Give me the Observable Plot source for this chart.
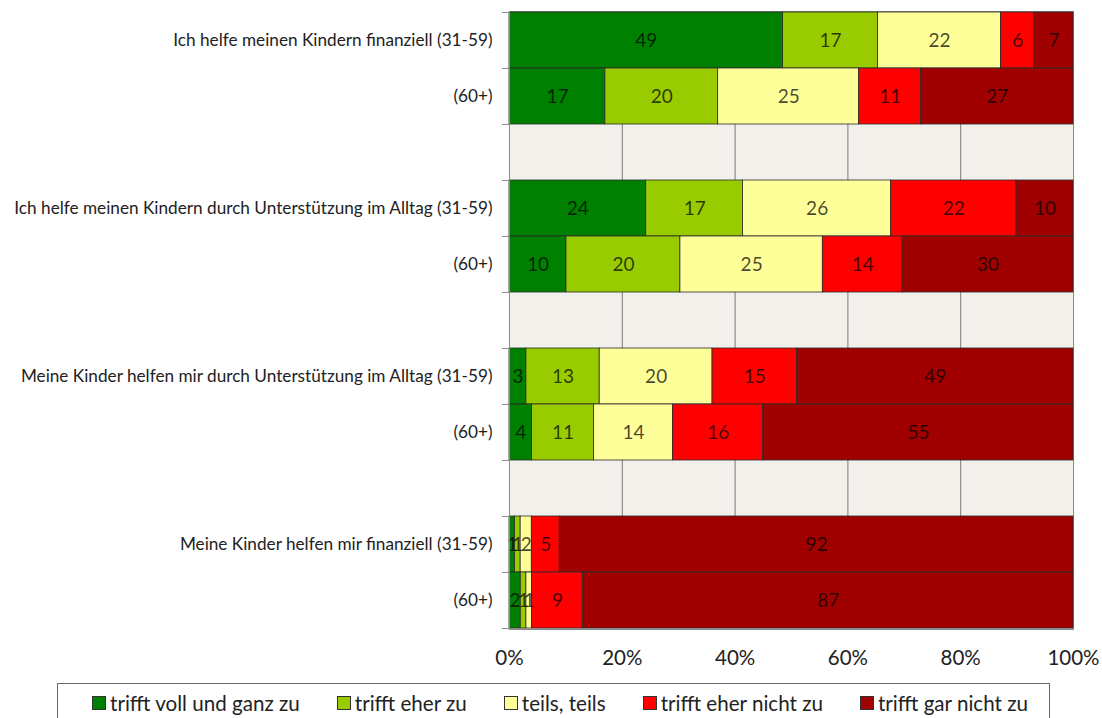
<!DOCTYPE html>
<html>
<head>
<meta charset="utf-8">
<script src="https://cdn.jsdelivr.net/npm/d3@7"></script>
<script src="https://cdn.jsdelivr.net/npm/@observablehq/plot@0.6"></script>
<style>
  html, body { margin: 0; padding: 0; background: #fff; }
  body { width: 1102px; height: 718px; position: relative; overflow: hidden; font-family: Lato, "Open Sans", sans-serif; }
  #chart { position: absolute; left: 0; top: 0; }
  #legend { position: absolute; left: 57px; top: 683px; width: 993px; height: 42px; box-sizing: border-box;
            border: 1px solid #666; display: flex; align-items: flex-start; padding-left: 34px; padding-top: 7px; font-size: 20.6px; color: #222; }
  .item { display: flex; align-items: center; margin-right: 37px; white-space: nowrap; }
  .sw { width: 14px; height: 14px; box-sizing: border-box; border: 1px solid #333; margin-right: 4px; }
</style>
</head>
<body>
<div id="chart"></div>
<div id="legend"></div>
<script>
const categories = ["trifft voll und ganz zu", "trifft eher zu", "teils, teils", "trifft eher nicht zu", "trifft gar nicht zu"];
const colors = ["#008000", "#99cc00", "#ffff99", "#ff0000", "#a00000"];

const rowKeys   = ["r1", "r2", "gap1", "r3", "r4", "gap2", "r5", "r6", "gap3", "r7", "r8"];
const rowLabels = ["Ich helfe meinen Kindern finanziell (31-59)", "(60+)", "",
                   "Ich helfe meinen Kindern durch Unterstützung im Alltag (31-59)", "(60+)", "",
                   "Meine Kinder helfen mir durch Unterstützung im Alltag (31-59)", "(60+)", "",
                   "Meine Kinder helfen mir finanziell (31-59)", "(60+)"];

const helpKidsMoney31   = [49, 17, 22, 6, 7];
const helpKidsMoney60   = [17, 20, 25, 11, 27];
const helpKidsDaily31   = [24, 17, 26, 22, 10];
const helpKidsDaily60   = [10, 20, 25, 14, 30];
const kidsHelpDaily31   = [3, 13, 20, 15, 49];
const kidsHelpDaily60   = [4, 11, 14, 16, 55];
const kidsHelpMoney31   = [1, 1, 2, 5, 92];
const kidsHelpMoney60   = [2, 1, 1, 9, 87];
const xTicks = [0, 0.2, 0.4, 0.6, 0.8, 1];

const series = {
  r1: helpKidsMoney31, r2: helpKidsMoney60,
  r3: helpKidsDaily31, r4: helpKidsDaily60,
  r5: kidsHelpDaily31, r6: kidsHelpDaily60,
  r7: kidsHelpMoney31, r8: kidsHelpMoney60
};
const data = [];
for (const k of rowKeys) {
  if (!series[k]) continue;
  series[k].forEach((v, i) => data.push({row: k, cat: categories[i], value: v}));
}
const labelOf = new Map(rowKeys.map((k, i) => [k, rowLabels[i]]));

const W = 1102, H = 680, mt = 11, mb = 51, ml = 509, mr = 29;
const bw = (H - mt - mb) / rowKeys.length;

const chart = Plot.plot({
  width: W, height: H,
  marginLeft: ml, marginRight: mr, marginTop: mt, marginBottom: mb,
  style: {fontFamily: "Lato, 'Open Sans', sans-serif", color: "#222", background: "#fff"},
  x: {domain: [0, 1], label: null},
  y: {domain: rowKeys, padding: 0, label: null},
  color: {domain: categories, range: colors},
  marks: [
    Plot.frame({fill: "#f2f0eb", stroke: "#8a8a8a"}),
    Plot.ruleX(xTicks.slice(1, -1), {stroke: "#7a7a7a", strokeWidth: 1}),
    Plot.barX(data, Plot.stackX({x: "value", y: "row", fill: "cat", offset: "normalize", stroke: "#2a2a2a", strokeWidth: 0.8})),
    Plot.text(data, Plot.stackX({x: "value", y: "row", z: "cat", offset: "normalize", text: d => String(d.value),
      fill: "#000", fillOpacity: 0.72, fontSize: 19})),
    Plot.ruleY(rowKeys, {y: d => d, x1: -0.0125, x2: 0, dy: -bw / 2, stroke: "#8a8a8a"}),
    Plot.ruleY(rowKeys.slice(-1), {y: d => d, x1: -0.0125, x2: 1, dy: bw / 2, stroke: "#8a8a8a"}),
    Plot.ruleX([0], {stroke: "#8a8a8a"}),
    Plot.axisY({tickSize: 0, tickPadding: 17, fontSize: 17.2, tickFormat: k => labelOf.get(k), fill: "#222"}),
    Plot.axisX({ticks: xTicks, tickSize: 0, tickPadding: 21, fontSize: 20.5, tickFormat: d3.format(".0%"), fill: "#222", label: null})
  ]
});
document.getElementById("chart").appendChild(chart);

const legend = document.getElementById("legend");
categories.forEach((c, i) => {
  const it = document.createElement("div");
  it.className = "item";
  const sw = document.createElement("span");
  sw.className = "sw";
  sw.style.background = colors[i];
  it.appendChild(sw);
  it.appendChild(document.createTextNode(c));
  legend.appendChild(it);
});
</script>
</body>
</html>
